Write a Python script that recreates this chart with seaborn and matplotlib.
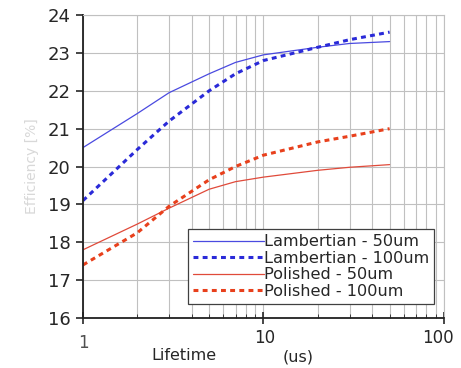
import numpy as np
import pandas as pd
import matplotlib
matplotlib.use("Agg")
import matplotlib.pyplot as plt
import seaborn as sns

# values
lifetime = [1, 2, 3, 5, 7, 10, 20, 30, 50]
lamb_50 = [20.5, 21.4, 21.95, 22.45, 22.75, 22.95, 23.15, 23.25, 23.3]
lamb_100 = [19.1, 20.45, 21.2, 22.0, 22.45, 22.8, 23.15, 23.35, 23.55]
pol_50 = [17.8, 18.48, 18.9, 19.4, 19.6, 19.72, 19.9, 19.98, 20.05]
pol_100 = [17.4, 18.25, 18.95, 19.65, 20.0, 20.3, 20.65, 20.8, 21.0]

names = ["Lambertian - 50um", "Lambertian - 100um",
         "Polished - 50um", "Polished - 100um"]
series = [lamb_50, lamb_100, pol_50, pol_100]

df = pd.concat([pd.DataFrame({"lifetime": lifetime, "eff": s, "series": n})
                for n, s in zip(names, series)], ignore_index=True)

sns.set_style("white")
plt.rcParams["font.family"] = ["DejaVu Sans"]

fig = plt.figure(figsize=(4.61, 3.68), dpi=100)
ax = fig.add_axes([0.18, 0.136, 0.783, 0.823])

palette = {names[0]: "#4a4ae0", names[1]: "#2a2ad8",
           names[2]: "#e04a3a", names[3]: "#e8401c"}
dashes = {names[0]: "", names[1]: (1.6, 1.4), names[2]: "", names[3]: (1.6, 1.4)}
sizes = {names[0]: 0.9, names[1]: 2.2, names[2]: 0.9, names[3]: 2.2}

sns.lineplot(data=df, x="lifetime", y="eff", hue="series", style="series",
             size="series", sizes=sizes, palette=palette, dashes=dashes, ax=ax)

ax.set_xscale("log")
ax.set_xlim(1, 100)
ax.set_ylim(16, 24)
ax.set_yticks(range(16, 25))
ax.set_xticks([1, 10, 100])
ax.set_xticklabels(["", "", ""])
ax.grid(True, which="both", axis="x", color="#c0c0c0", lw=0.8)
ax.grid(True, which="major", axis="y", color="#c0c0c0", lw=0.8)
for s in ["top", "right"]:
    ax.spines[s].set_color("#c0c0c0")
for s in ["left", "bottom"]:
    ax.spines[s].set_color("#202020")
    ax.spines[s].set_linewidth(1.3)
ax.tick_params(axis="y", which="major", direction="out", length=5, width=1.2,
               labelsize=13, left=True, pad=4)
ax.tick_params(axis="x", which="major", direction="inout", length=8, width=1.2,
               bottom=True)
ax.tick_params(axis="x", which="minor", direction="in", length=3, bottom=True)
ax.set_xlabel("")
ax.set_ylabel("Efficiency [%]", color="#d8d8d8", fontsize=10, labelpad=6)

# x tick labels and axis title placed like the reference
fig.text(83 / 461, 1 - 343 / 368, "1", ha="center", va="center", fontsize=12,
         color="#505050")
fig.text(265 / 461, 1 - 338 / 368, "10", ha="center", va="center", fontsize=12)
fig.text(438 / 461, 1 - 338 / 368, "100", ha="center", va="center", fontsize=12)
fig.text(184 / 461, 1 - 355 / 368, "Lifetime", ha="center", va="center",
         fontsize=11.5)
fig.text(298 / 461, 1 - 357 / 368, "(us)", ha="center", va="center",
         fontsize=11.5)

handles, labels = ax.get_legend_handles_labels()
leg = ax.legend(handles, labels, loc="lower right", bbox_to_anchor=(0.995, 0.02),
                fontsize=11.6, handlelength=4.4, handletextpad=0.0,
                labelspacing=0.1, borderpad=0.3, frameon=True, fancybox=False,
                edgecolor="#404040", framealpha=1)
leg.get_frame().set_linewidth(0.9)

fig.savefig("out.png", dpi=100)
